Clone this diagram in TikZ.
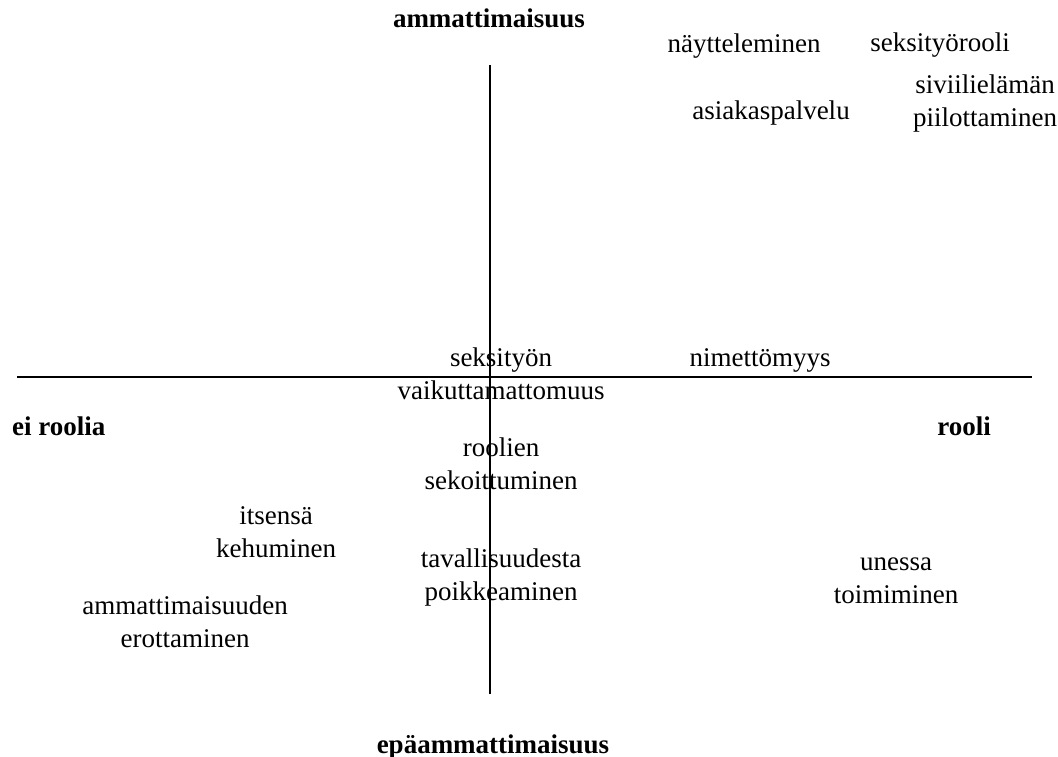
\documentclass[tikz,border=0pt]{standalone}
\usepackage{fontspec}
\setmainfont{Liberation Serif}
\usepackage{tikz}
\usetikzlibrary{positioning}

\tikzset{
  axisline/.style={line width=1.5pt},
  item/.style={font=\fontsize{27}{33}\selectfont, align=center, inner sep=0pt, anchor=base},
  pole/.style={item, font=\fontsize{27}{33}\selectfont\bfseries},
}

\begin{document}
\begin{tikzpicture}[x=1pt,y=-1pt]

\useasboundingbox (0,0) rectangle (1058,757) ;

\coordinate (ax_top) at (490,65) ;
\coordinate (ax_bot) at (490,694) ;
\coordinate (ax_left) at (17,377) ;
\coordinate (ax_right) at (1032,377) ;

\draw[axisline] (ax_top) -- (ax_bot) ;
\draw[axisline] (ax_left) -- (ax_right) ;

% ends of the axes
\node[pole] (ammat) at (489,28) {ammattimaisuus} ;
\node[pole] (epaammat) at (493,753) {epäammattimaisuus} ;
\node[pole, anchor=base west] (eirooli) at (12,435) {ei roolia} ;
\node[pole] (rooli) at (964,435) {rooli} ;

% upper right (base = last line)
\node[item] (naytt) at (744,53) {näytteleminen} ;
\node[item] (srooli) at (940,52) {seksityörooli} ;
\node[item] (sivi) at (985,127) {siviilielämän\\piilottaminen} ;
\node[item] (asiak) at (771,120) {asiakaspalvelu} ;
\node[item] (nimet) at (760,366) {nimettömyys} ;

% middle
\node[item] (vaikut) at (501,399) {seksityön\\vaikuttamattomuus} ;
\node[item] (sekoit) at (501,489) {roolien\\sekoittuminen} ;
\node[item] (poikk) at (501,600) {tavallisuudesta\\poikkeaminen} ;

% lower left
\node[item] (kehu) at (276,557) {itsensä\\kehuminen} ;
\node[item] (erott) at (185,647) {ammattimaisuuden\\erottaminen} ;

% lower right
\node[item] (uness) at (896,603) {unessa\\toimiminen} ;

\end{tikzpicture}
\end{document}
